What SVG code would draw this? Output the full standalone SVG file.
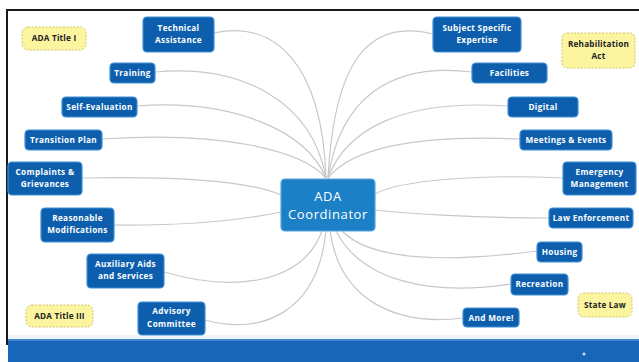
<svg xmlns="http://www.w3.org/2000/svg" width="639" height="362" viewBox="0 0 639 362">
  <style>
    .bg { fill: #ffffff; }
    .frame { fill: none; stroke: #1a1a1a; stroke-width: 2; }
    .link { fill: none; stroke: #c8c8c8; stroke-width: 1.2; }
    .topic { fill: #0d5fae; stroke: #3f8fd6; stroke-width: 1.2; }
    .hub { fill: #1c80c6; stroke: #5aa6dc; stroke-width: 1.2; }
    .law { fill: #fbf5a0; stroke: #cfc56a; stroke-width: 1; stroke-dasharray: 2 1.5; }
    .t { font-family: "Open Sans", "Liberation Sans", sans-serif; font-weight: bold; font-size: 8.2px; letter-spacing: 0.35px; fill: #ffffff; text-anchor: middle; }
    .lt { font-family: "Open Sans", "Liberation Sans", sans-serif; font-weight: bold; font-size: 8.2px; letter-spacing: 0.2px; fill: #222222; text-anchor: middle; }
    .ht { font-family: "Open Sans", "Liberation Sans", sans-serif; font-size: 13px; fill: #ffffff; text-anchor: middle; letter-spacing: 0.6px; }
  </style>

  <rect class="bg" x="0" y="0" width="639" height="362"/>

  <!-- slide frame -->
  <path class="frame" d="M7,345 V10 H639"/>

  <!-- footer band -->
  <rect x="8" y="335" width="631" height="4" fill="#eef4fa"/>
  <rect x="8" y="339" width="631" height="23" fill="#1766b8"/>
  <rect x="8" y="339" width="631" height="2" fill="#3d86cf"/>
  <circle cx="584" cy="354" r="1.5" fill="#cfe3f6"/>

  <g id="connectors">
    <path class="link" d="M214,33 C272,20 322,60 326,178"/>
    <path class="link" d="M155,72 C240,64 312,100 326,178"/>
    <path class="link" d="M137,106 C232,99 306,130 326,178"/>
    <path class="link" d="M102,139 C222,131 302,150 326,178"/>
    <path class="link" d="M82,178 C190,176 252,182 281,195"/>
    <path class="link" d="M114,225 C200,226 252,218 281,212"/>
    <path class="link" d="M164,272 C232,292 302,285 322,231"/>
    <path class="link" d="M205,320 C262,336 318,312 326,231"/>
    <path class="link" d="M433,34 C368,18 334,62 328,178"/>
    <path class="link" d="M472,72 C388,62 340,100 328,178"/>
    <path class="link" d="M508,106 C400,99 346,130 328,178"/>
    <path class="link" d="M520,139 C410,134 350,150 328,178"/>
    <path class="link" d="M563,178 C480,174 400,180 375,194"/>
    <path class="link" d="M549,218 C470,218 402,213 375,210"/>
    <path class="link" d="M537,251 C452,262 372,262 342,231"/>
    <path class="link" d="M511,284 C432,296 362,282 336,231"/>
    <path class="link" d="M463,318 C398,326 340,302 330,231"/>
  </g>

  <g id="ada-coordinator">
    <rect class="hub" x="281" y="179" width="94" height="52" rx="4"/>
    <text class="ht" x="328" y="201">ADA</text>
    <text class="ht" x="328" y="219">Coordinator</text>
  </g>

  <g id="ada-title-1">
    <rect class="law" x="22" y="27" width="64" height="23" rx="6"/>
    <text class="lt" x="54" y="41">ADA Title I</text>
  </g>
  <g id="ada-title-3">
    <rect class="law" x="26" y="305" width="67" height="22" rx="6"/>
    <text class="lt" x="59.5" y="319">ADA Title III</text>
  </g>
  <g id="rehabilitation-act">
    <rect class="law" x="562" y="33" width="73" height="35" rx="5"/>
    <text class="lt" x="598.5" y="47">Rehabilitation</text>
    <text class="lt" x="598.5" y="59">Act</text>
  </g>
  <g id="state-law">
    <rect class="law" x="578" y="293" width="54" height="24" rx="6"/>
    <text class="lt" x="605" y="308">State Law</text>
  </g>

  <g id="technical-assistance">
    <rect class="topic" x="143" y="17" width="71" height="35" rx="4"/>
    <text class="t" x="178.5" y="31">Technical</text>
    <text class="t" x="178.5" y="43">Assistance</text>
  </g>
  <g id="training">
    <rect class="topic" x="110" y="63" width="45" height="20" rx="4"/>
    <text class="t" x="132.5" y="76">Training</text>
  </g>
  <g id="self-evaluation">
    <rect class="topic" x="62" y="97" width="75" height="20" rx="4"/>
    <text class="t" x="99.5" y="110">Self-Evaluation</text>
  </g>
  <g id="transition-plan">
    <rect class="topic" x="25" y="130" width="77" height="20" rx="4"/>
    <text class="t" x="63.5" y="143">Transition Plan</text>
  </g>
  <g id="complaints-grievances">
    <rect class="topic" x="8" y="162" width="74" height="33" rx="4"/>
    <text class="t" x="45" y="175">Complaints &amp;</text>
    <text class="t" x="45" y="187">Grievances</text>
  </g>
  <g id="reasonable-modifications">
    <rect class="topic" x="41" y="208" width="73" height="34" rx="4"/>
    <text class="t" x="77.5" y="221">Reasonable</text>
    <text class="t" x="77.5" y="233">Modifications</text>
  </g>
  <g id="auxiliary-aids">
    <rect class="topic" x="87" y="254" width="77" height="34" rx="4"/>
    <text class="t" x="125.5" y="267">Auxiliary Aids</text>
    <text class="t" x="125.5" y="279">and Services</text>
  </g>
  <g id="advisory-committee">
    <rect class="topic" x="138" y="302" width="67" height="33" rx="4"/>
    <text class="t" x="171.5" y="314">Advisory</text>
    <text class="t" x="171.5" y="327">Committee</text>
  </g>

  <g id="subject-specific-expertise">
    <rect class="topic" x="433" y="17" width="88" height="35" rx="4"/>
    <text class="t" x="477" y="31">Subject Specific</text>
    <text class="t" x="477" y="43">Expertise</text>
  </g>
  <g id="facilities">
    <rect class="topic" x="472" y="63" width="75" height="20" rx="4"/>
    <text class="t" x="509.5" y="76">Facilities</text>
  </g>
  <g id="digital">
    <rect class="topic" x="508" y="97" width="70" height="20" rx="4"/>
    <text class="t" x="543" y="110">Digital</text>
  </g>
  <g id="meetings-events">
    <rect class="topic" x="520" y="130" width="92" height="20" rx="4"/>
    <text class="t" x="566" y="143">Meetings &amp; Events</text>
  </g>
  <g id="emergency-management">
    <rect class="topic" x="563" y="162" width="73" height="33" rx="4"/>
    <text class="t" x="599.5" y="175">Emergency</text>
    <text class="t" x="599.5" y="187">Management</text>
  </g>
  <g id="law-enforcement">
    <rect class="topic" x="549" y="208" width="84" height="20" rx="4"/>
    <text class="t" x="591" y="221">Law Enforcement</text>
  </g>
  <g id="housing">
    <rect class="topic" x="537" y="242" width="45" height="20" rx="4"/>
    <text class="t" x="559.5" y="255">Housing</text>
  </g>
  <g id="recreation">
    <rect class="topic" x="511" y="274" width="57" height="21" rx="4"/>
    <text class="t" x="539.5" y="287">Recreation</text>
  </g>
  <g id="and-more">
    <rect class="topic" x="463" y="308" width="56" height="19" rx="4"/>
    <text class="t" x="491" y="321">And More!</text>
  </g>
</svg>
